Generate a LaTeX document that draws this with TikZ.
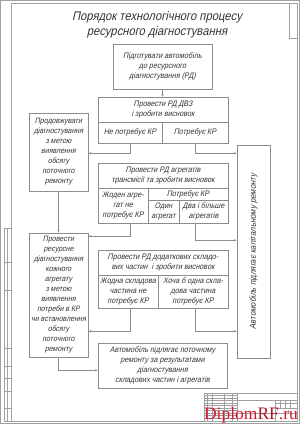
\documentclass[tikz,border=0pt]{standalone}
\usepackage{fontspec}
\setmainfont{Liberation Sans}
\newfontfamily\gfont{Liberation Sans}[FakeSlant=0.22, FakeStretch=0.9]
\newfontfamily\wmfont{Liberation Serif}
\usetikzlibrary{arrows.meta}
\definecolor{linec}{HTML}{8C8C8C}
\definecolor{txtc}{HTML}{333333}
\definecolor{framec}{HTML}{A0A0A0}
\definecolor{wmred}{HTML}{D7192E}
\begin{document}
\begin{tikzpicture}[x=1pt,y=-1pt,
  box/.style={draw=linec, line width=0.55pt, inner sep=1pt, align=center, text=txtc,
    font=\gfont\fontsize{8}{9.8}\selectfont},
  lbox/.style={box, font=\gfont\fontsize{7.8}{10}\selectfont},
  conn/.style={draw=linec, line width=0.55pt, -{Stealth[length=3pt,width=2.2pt]}},
  frame/.style={draw=framec, line width=0.5pt},
  thin/.style={draw=framec, line width=0.3pt}]
\useasboundingbox (0,0) rectangle (300,424);
% sheet and frame
\draw[thin] (0.5,0.5) rectangle (299.5,423.5);
\draw[frame] (11,3) rectangle (297,421);
\draw[frame] (289,3) rectangle (297,38);
% left strip
\draw[thin] (4,228) rectangle (11,421);
\draw[thin] (7.5,228) -- (7.5,421);
\foreach \yy in {262,290,348,366,378,391,408} \draw[thin] (4,\yy) -- (11,\yy);
% title block
\draw[frame] (204,393) rectangle (297,421);
\foreach \xx in {207.5,212.6,224.2,231.8,236.9} \draw[thin] (\xx,393) -- (\xx,421);
\foreach \yy in {395.5,398,400.6,403,405.6,408,410.6,413,415.6,418} \draw[thin] (204,\yy) -- (236.9,\yy);
\draw[thin] (236.9,400.6) -- (297,400.6);
\draw[thin] (236.9,413.6) -- (297,413.6);
\draw[thin] (274.7,400.6) -- (274.7,421);
\foreach \xx in {279.7,284.7,289.7} \draw[thin] (\xx,400.6) -- (\xx,408);
\draw[thin] (274.7,403.1) -- (297,403.1);
\draw[thin] (274.7,408) -- (297,408);

% title
\node[font=\gfont\fontsize{12.5}{15}\selectfont, text=txtc, align=center] (title) at (157,24.5)
  {Порядок технологічного процесу\\ресурсного діагностування};

% boxes
\node[box, minimum width=99pt, minimum height=45pt] (b1) at (162.5,66.5)
  {Підготувати автомобіль\\до ресурсного\\діагностування (РД)};
\node[box, minimum width=130pt, minimum height=25pt] (b2h) at (163,109.5)
  {Провести РД ДВЗ\\і зробити висновок};
\node[box, minimum width=64pt, minimum height=21pt] (b2l) at (130,132.5) {Не потребує КР};
\node[box, minimum width=66pt, minimum height=21pt] (b2r) at (195,132.5) {Потребує КР};

\node[lbox, minimum width=59pt, minimum height=78pt] (L1) at (58.5,152)
  {Продовжувати\\діагностування\\з метою\\виявлення\\обсягу\\поточного\\ремонту};

\node[box, minimum width=130pt, minimum height=25pt] (b3h) at (163,175.5)
  {Провести РД агрегатів\\трансмісії та зробити висновок};
\node[box, minimum width=50pt, minimum height=35pt] (j0) at (123,205.5)
  {Жоден агре-\\гат не\\потребує КР};
\node[box, minimum width=80pt, minimum height=12pt] (jk) at (188,194) {Потребує КР};
\node[box, minimum width=31pt, minimum height=23pt] (j1) at (163.5,211.5) {Один\\агрегат};
\node[box, minimum width=49pt, minimum height=23pt] (j2) at (203.5,211.5) {Два і більше\\агрегатів};

\node[lbox, minimum width=59pt, minimum height=124pt] (L2) at (58.5,295)
  {Провести\\ресурсне\\діагностування\\кожного\\агрегату\\з метою\\виявлення\\потреби в КР\\чи встановлення\\обсягу\\поточного\\ремонту};

\node[box, minimum width=130pt, minimum height=25pt] (b4h) at (163,262.5)
  {Провести РД додаткових складо-\\вих частин\ \ і зробити висновок};
\node[box, minimum width=60pt, minimum height=33pt] (c4l) at (128,291.5)
  {Жодна складова\\частина не\\потребує КР};
\node[box, minimum width=70pt, minimum height=33pt] (c4r) at (193,291.5)
  {Хоча б одна скла-\\дова частина\\потребує КР};

\node[box, minimum width=33pt, minimum height=213pt] (R) at (253.5,251.5) {};
\node[rotate=90, text=txtc, font=\gfont\fontsize{8.6}{10}\selectfont] (Rt) at (R.center)
  {Автомобіль підлягає капітальному ремонту};

\node[box, minimum width=129pt, minimum height=45pt] (F) at (162.5,365.5)
  {Автомобіль підлягає поточному\\ремонту за результатами\\діагностування\\складових частин і агрегатів};

% connectors
\draw[conn] (b1.south) -- (b1.south |- b2h.north);
\draw[conn] (b2l.south) -- ++(0,10) coordinate (k1) -- (k1 -| L1.east);
\draw[conn] (b2r.south) -- ++(0,10) coordinate (k2) -- (k2 -| R.west);
\draw[conn] (L1.south) -- (L2.north);
\draw[conn] (j0.south -| b2l.south) -- ++(0,13) coordinate (k3) -- (k3 -| L2.east);
\draw[conn] (j2.south -| b2r.south) -- ++(0,17) coordinate (k4) -- (k4 -| R.west);
\draw[conn] (c4l.south -| b2l.south) -- ++(0,23) coordinate (k5) -- (k5 -| L2.east);
\draw[conn] (c4r.south -| b2r.south) -- ++(0,23) coordinate (k6) -- (k6 -| R.west);
\draw[conn] (L2.south) -- ++(0,13) coordinate (k7) -- (k7 -| F.west);

% watermark
\node[anchor=base, font=\wmfont\fontsize{17.5}{17.5}\selectfont, text=wmred, inner sep=0pt] (wm) at (251,419)
  {Diplom\textcolor{wmred!80!black}{RF}.ru};
\end{tikzpicture}
\end{document}
